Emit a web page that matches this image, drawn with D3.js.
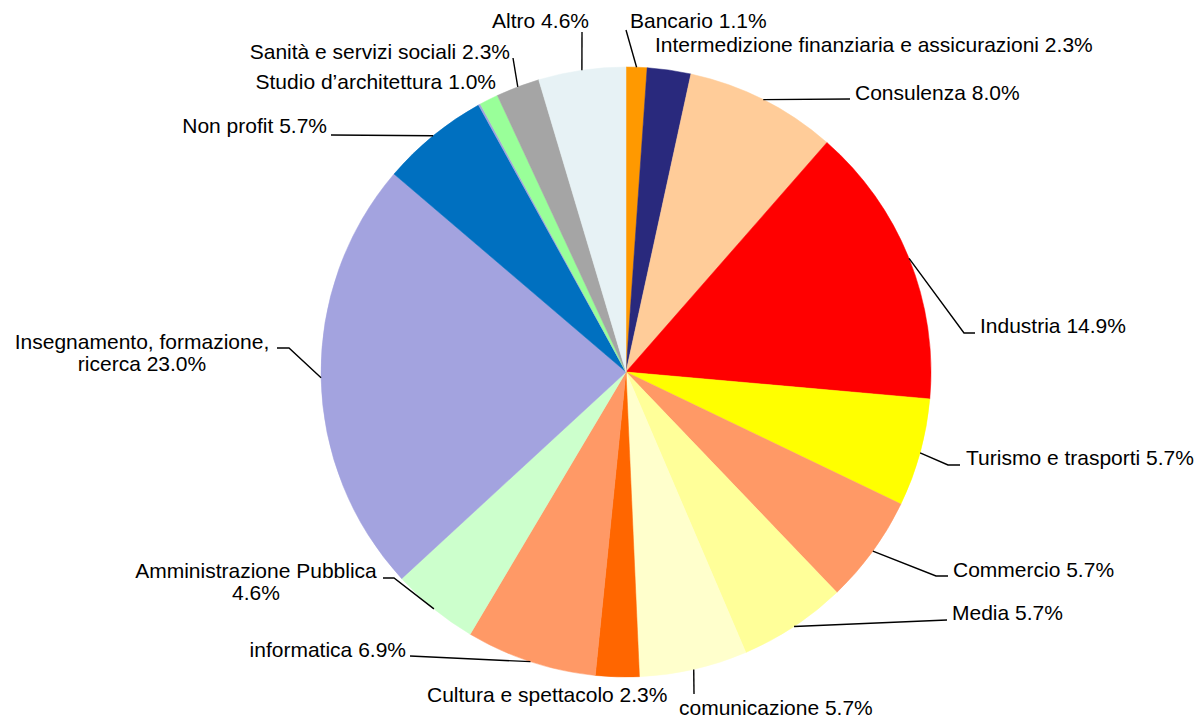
<!DOCTYPE html>
<html>
<head>
<meta charset="utf-8">
<script src="https://cdn.jsdelivr.net/npm/d3@7"></script>
<style>
  html, body { margin: 0; padding: 0; background: #fff; }
  svg { display: block; }
  .lbl { font-family: "Liberation Sans", Arial, sans-serif; font-size: 21px; fill: #000; }
  .leader { fill: none; stroke: #000; stroke-width: 1.4px; }
</style>
</head>
<body>
<svg id="chart"></svg>
<script>
// slices, clockwise from 12 o'clock
var categories = [
  "Bancario", "Intermedizione finanziaria e assicurazioni", "Consulenza", "Industria",
  "Turismo e trasporti", "Commercio", "Media", "comunicazione", "Cultura e spettacolo",
  "informatica", "Amministrazione Pubblica", "Insegnamento, formazione, ricerca",
  "Non profit", "", "Studio d\u2019architettura", "Sanità e servizi sociali", "Altro"
];
var shares = [1.1, 2.3, 8.0, 14.9, 5.7, 5.7, 5.7, 5.7, 2.3, 6.9, 4.6, 23.0, 5.7, 0.1, 1.0, 2.3, 4.6];
var colors = [
  "#ff9900", "#29297d", "#ffcc99", "#ff0000", "#ffff00", "#ff9966", "#ffff99", "#ffffcc",
  "#ff6600", "#ff9966", "#ccffcc", "#a3a3df", "#0070c0", "#a3a3df", "#99ff99", "#a5a5a5", "#e7f2f5"
];
// label lines as shown (some labels wrap onto two lines)
var labelLines = [
  ["Bancario 1.1%"], ["Intermedizione finanziaria e assicurazioni 2.3%"], ["Consulenza 8.0%"],
  ["Industria 14.9%"], ["Turismo e trasporti 5.7%"], ["Commercio 5.7%"], ["Media 5.7%"],
  ["comunicazione 5.7%"], ["Cultura e spettacolo 2.3%"], ["informatica 6.9%"],
  ["Amministrazione Pubblica", "4.6%"], ["Insegnamento, formazione,", "ricerca 23.0%"],
  ["Non profit 5.7%"], [], ["Studio d\u2019architettura 1.0%"], ["Sanità e servizi sociali 2.3%"], ["Altro 4.6%"]
];

// label placement: text anchor point, alignment, and leader bend points (from slice edge outward)
var labelLayout = [
  { x: 630, y: 28, a: "start", bend: [[626, 30]] },
  { x: 655, y: 52, a: "start", bend: null },
  { x: 855, y: 100, a: "start", bend: [[850, 99]] },
  { x: 980, y: 333, a: "start", bend: [[964, 333], [975, 333]] },
  { x: 966, y: 465, a: "start", bend: [[948, 465], [960, 465]] },
  { x: 953, y: 577, a: "start", bend: [[936, 576], [948, 576]] },
  { x: 952, y: 620, a: "start", bend: [[947, 620]] },
  { x: 679, y: 715, a: "start", bend: [[694, 694]] },
  { x: 427, y: 702, a: "start", bend: null },
  { x: 406, y: 657, a: "end", bend: [[410, 656]] },
  { x: 256, y: 578, a: "middle", bend: [[394, 578], [383, 578]] },
  { x: 142, y: 349, a: "middle", bend: [[289, 348], [277, 348]] },
  { x: 327, y: 133, a: "end", bend: [[331, 135]] },
  null,
  { x: 496, y: 89, a: "end", bend: null },
  { x: 510, y: 59, a: "end", bend: [[513, 58]] },
  { x: 589, y: 28, a: "end", bend: [[582, 32]] }
];

var W = 1200, H = 718;
var cx = 626, cy = 372, R = 305;

var svg = d3.select("#chart").attr("width", W).attr("height", H);
var g = svg.append("g").attr("transform", "translate(" + cx + "," + cy + ")");

var rows = shares.map(function (v, i) { return { i: i, value: v }; });
var pie = d3.pie().sort(null).value(function (d) { return d.value; });
var arcs = pie(rows);
var arc = d3.arc().innerRadius(0).outerRadius(R);
var edge = d3.arc().innerRadius(R).outerRadius(R);

g.selectAll("path.slice")
  .data(arcs)
  .enter().append("path")
  .attr("class", "slice")
  .attr("d", arc)
  .attr("fill", function (d) { return colors[d.data.i]; })
  .attr("stroke", function (d) { return colors[d.data.i]; })
  .attr("stroke-width", 0.5);

// leader lines
var line = d3.line();
arcs.forEach(function (d) {
  var lay = labelLayout[d.data.i];
  if (!lay || !lay.bend) return;
  var p0 = edge.centroid(d);
  var pts = [[p0[0] + cx, p0[1] + cy]].concat(lay.bend);
  svg.append("path").attr("class", "leader").attr("d", line(pts));
});

// labels
arcs.forEach(function (d) {
  var lay = labelLayout[d.data.i];
  if (!lay) return;
  var t = svg.append("text")
    .attr("class", "lbl")
    .attr("x", lay.x)
    .attr("y", lay.y)
    .attr("text-anchor", lay.a);
  labelLines[d.data.i].forEach(function (s, k) {
    t.append("tspan").attr("x", lay.x).attr("dy", k === 0 ? 0 : 22).text(s);
  });
});
</script>
</body>
</html>
